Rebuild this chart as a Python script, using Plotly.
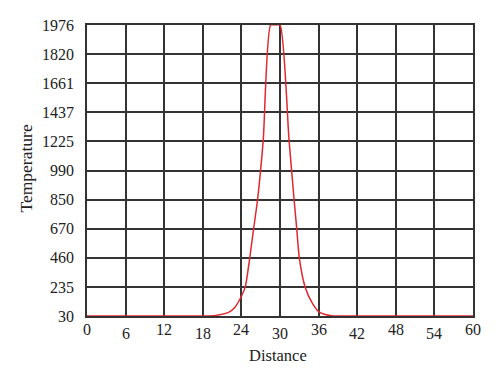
import numpy as np
import plotly.graph_objects as go

# Axis labels (evenly spaced grid levels on the y axis)
y_tick_labels = [30, 235, 460, 670, 850, 990, 1225, 1437, 1661, 1820, 1976]
x_ticks = [0, 6, 12, 18, 24, 30, 36, 42, 48, 54, 60]

# Curve
distance = [0, 10, 18, 20, 22, 23, 24, 24.6, 25.3, 25.9, 26.5, 27.4, 28.55,
            29.3, 30.0, 31.4, 32.2, 32.6, 33.0, 33.9, 35, 36, 37, 38, 39, 50, 60]
temperature = [30, 30, 30, 34, 55, 92, 169, 235, 460, 670, 846, 1238, 1976,
               1976, 1976, 1238, 846, 670, 460, 235, 122, 61, 40, 32, 30, 30, 30]

# The y axis uses evenly spaced levels: map temperatures to level positions
levels = list(range(len(y_tick_labels)))
y_pos = np.interp(temperature, y_tick_labels, levels)

serif = "Liberation Serif"
txt = "#222"
fig = go.Figure()
fig.add_trace(go.Scatter(x=distance, y=y_pos, mode="lines",
                         line=dict(color="#e3262e", width=1.5, shape="spline", smoothing=0.6),
                         hoverinfo="skip", showlegend=False))

ann = []
for i, v in enumerate(x_ticks):
    ann.append(dict(x=v, y=0, xref="x", yref="paper", text=str(v), showarrow=False,
                    xanchor="center", yanchor="middle",
                    yshift=-13 if i % 2 == 0 else -17.5,
                    font=dict(family=serif, size=16, color=txt)))
ann.append(dict(x=0.5, y=0, xref="paper", yref="paper", text="Distance", showarrow=False,
                xanchor="center", yanchor="middle", yshift=-39, xshift=-2,
                font=dict(family=serif, size=16.5, color=txt)))
ann.append(dict(x=0, y=0.5, xref="paper", yref="paper", text="Temperature", showarrow=False,
                xanchor="center", yanchor="middle", xshift=-62, yshift=2, textangle=-90,
                font=dict(family=serif, size=17.5, color=txt)))

fig.update_layout(
    width=500, height=383,
    margin=dict(l=79, r=35, t=17, b=75, autoexpand=False),
    paper_bgcolor="white", plot_bgcolor="white",
    annotations=ann,
    xaxis=dict(range=[0, 60], tickvals=x_ticks, showticklabels=False, automargin=False,
               showgrid=True, gridcolor="#333", gridwidth=1.5,
               showline=True, linecolor="#333", linewidth=1.5, mirror=True,
               zeroline=False),
    yaxis=dict(range=[0, 10], tickvals=levels, ticktext=[str(v) for v in y_tick_labels],
               automargin=False,
               showgrid=True, gridcolor="#333", gridwidth=1.5,
               showline=True, linecolor="#333", linewidth=1.5, mirror=True,
               zeroline=False, ticks="outside", ticklen=8, tickcolor="rgba(0,0,0,0)",
               tickfont=dict(family=serif, size=16, color=txt)),
)
fig.write_html("out.html")
